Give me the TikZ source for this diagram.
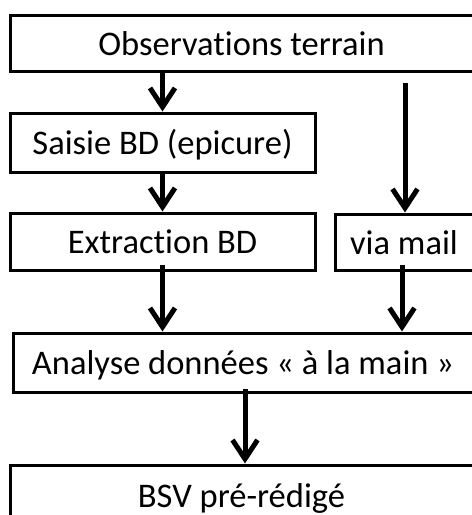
\documentclass[tikz,border=0pt]{standalone}
\usepackage{fontspec}
\setmainfont[Ligatures={NoCommon}]{Carlito}
\usetikzlibrary{arrows.meta}
\begin{document}
\begin{tikzpicture}[x=1pt,y=-1pt,
  box/.style={draw=black, line width=3pt, fill=white, inner sep=0pt,
    font=\fontsize{34.5}{40}\selectfont, text height=24pt, text depth=0pt},
  arr/.style={line width=5pt, -{Straight Barb[length=19pt,width=25pt,line width=5pt]}}]
  \useasboundingbox (0,0) rectangle (472,515);
  \fill[white] (0,0) rectangle (472,515);
  \clip (0,0) rectangle (472,515);

  % process boxes
  \node[box, minimum width=463pt, minimum height=56pt] (obs)   at (241.5,43)   {Observations terrain};
  \node[box, minimum width=305pt, minimum height=59pt] (saisie) at (162.5,142.5) {Saisie BD (epicure)};
  \node[box, minimum width=305pt, minimum height=57pt] (extr)  at (162.5,241.5) {Extraction BD};
  \node[box, minimum width=138pt, minimum height=56pt] (mail)  at (404,242)     {via mail};
  \node[box, minimum width=460pt, minimum height=59pt] (anal)  at (243,362.5)   {Analyse données « à la main »};
  \node[box, minimum width=463pt, minimum height=60pt] (bsv)   at (241.5,495)   {BSV pré-rédigé};

  % start of the mail branch
  \coordinate (mailsrc) at (405,83);

  % flow arrows
  \draw[arr] (obs.south -| saisie) -- (saisie.north);
  \draw[arr] (saisie.south) -- (extr.north);
  \draw[arr] (mailsrc) -- (mail.north -| mailsrc);
  \draw[arr] ([yshift=7pt]extr.south) -- (anal.north -| extr.south);
  \draw[arr] ([xshift=-2pt,yshift=7pt]mail.south) -- ([xshift=-2pt]anal.north -| mail.south);
  \draw[arr] ([xshift=2pt,yshift=5pt]anal.south) -- ([xshift=2pt]bsv.north -| anal.south);
\end{tikzpicture}
\end{document}
